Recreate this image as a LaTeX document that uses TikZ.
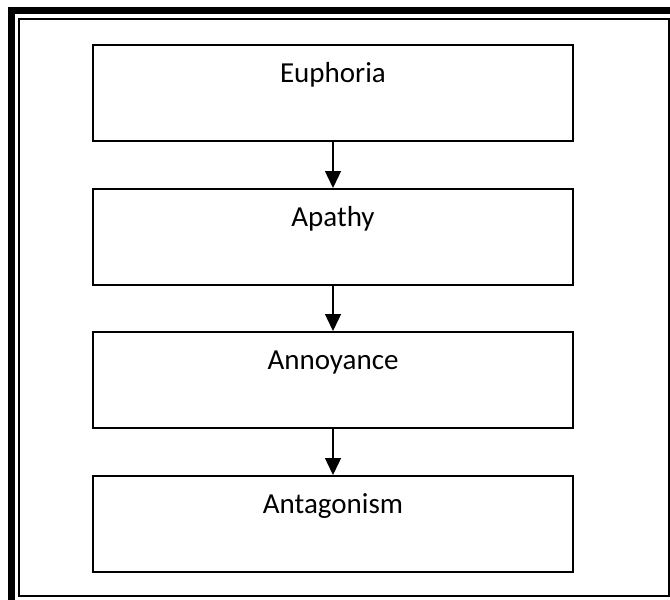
\documentclass[tikz,border=0pt]{standalone}
\usepackage{fontspec}
\setmainfont{Carlito}
\usetikzlibrary{arrows.meta}
\begin{document}
\begin{tikzpicture}[x=1pt,y=-1pt,
  stagebox/.style={draw=black, line width=2pt, minimum width=480pt,
    inner xsep=0pt, inner ysep=0pt, text height=37pt, text depth=59pt,
    anchor=north, font=\fontsize{29}{34}\selectfont},
  flow/.style={line width=1.4pt, -{Triangle[width=16pt,length=17pt]}}]
  \useasboundingbox (0,0) rectangle (670,600);
  % page frame: heavy outer rule and thin inner rule
  \draw[line width=7pt, line join=miter] (11.5,600) -- (11.5,10.5) -- (670,10.5);
  \draw[line width=2pt] (19,19) rectangle (669,596);
  % stages
  \node[stagebox] (euphoria)    at (333,44)  {Euphoria};
  \node[stagebox] (apathy)      at (333,188) {Apathy};
  \node[stagebox] (annoyance)   at (333,331) {Annoyance};
  \node[stagebox] (antagonism)  at (333,475) {Antagonism};
  % transitions
  \draw[flow] (euphoria.south)  -- (apathy.north);
  \draw[flow] (apathy.south)    -- (annoyance.north);
  \draw[flow] (annoyance.south) -- (antagonism.north);
\end{tikzpicture}
\end{document}
